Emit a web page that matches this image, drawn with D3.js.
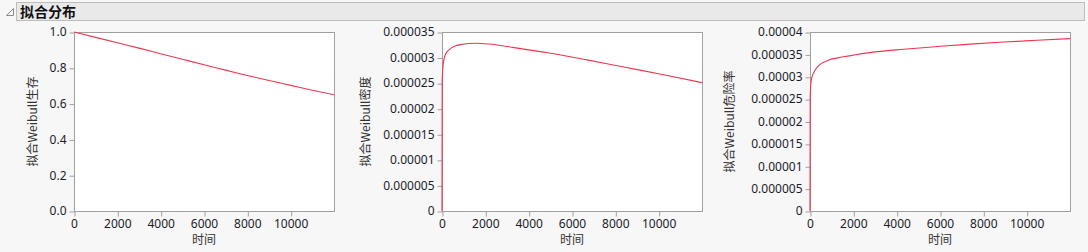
<!DOCTYPE html>
<html>
<head>
<meta charset="utf-8">
<script src="https://cdn.jsdelivr.net/npm/d3@7"></script>
<style>
  body { margin: 0; background: #f7f7f7; }
  svg { display: block; }
  text { font-family: "Noto Sans", "Noto Sans CJK SC", sans-serif; }
</style>
</head>
<body>
<script>
// values
var survTime = [0, 1000, 2000, 3000, 4000, 5000, 6000, 7000, 8000, 9000, 10000, 11000, 12000];
var survVal = [1.0, 0.970, 0.940, 0.910, 0.879, 0.848, 0.817, 0.787, 0.757, 0.729, 0.702, 0.675, 0.649];

var densTime = [0, 10, 40, 90, 170, 320, 630, 940, 1550, 2170, 3250, 4940, 6630, 8330, 10170, 12000];
var densVal = [0, 0.0000255, 0.0000280, 0.0000296, 0.0000307, 0.0000315, 0.0000323, 0.0000326, 0.0000328, 0.00003265, 0.0000320, 0.0000309, 0.0000296, 0.0000282, 0.0000267, 0.0000251];

var hazTime = [0, 10, 32, 80, 171, 402, 800, 1555, 2755, 4325, 5860, 7400, 8940, 10480, 12000];
var hazVal = [0, 0.0000250, 0.0000281, 0.0000297, 0.0000309, 0.0000325, 0.0000336, 0.00003445, 0.0000354, 0.00003615, 0.00003675, 0.0000373, 0.00003775, 0.00003815, 0.00003853];

var xTicks = [0, 2000, 4000, 6000, 8000, 10000];
var xMinor = [1000, 3000, 5000, 7000, 9000, 11000];
var survTicks = [0, 0.2, 0.4, 0.6, 0.8, 1.0];
var survMinor = [0.1, 0.3, 0.5, 0.7, 0.9];
var densTicks = [0, 0.000005, 0.00001, 0.000015, 0.00002, 0.000025, 0.00003, 0.000035];
var hazTicks = [0, 0.000005, 0.00001, 0.000015, 0.00002, 0.000025, 0.00003, 0.000035, 0.00004];

var title = "拟合分布";
var xTitle = "时间";

var W = 1088, H = 252;
var svg = d3.select("body").append("svg").attr("width", W).attr("height", H);

svg.append("rect").attr("width", W).attr("height", H).attr("fill", "#f7f7f7");

// header bar
svg.append("rect")
    .attr("x", 16.5).attr("y", 2.5).attr("width", 1068).attr("height", 18)
    .attr("fill", "#e9e9e9").attr("stroke", "#bdbdbd");
svg.append("path")
    .attr("d", "M13.5,8.5 L13.5,15.5 L6.5,15.5 Z")
    .attr("fill", "none").attr("stroke", "#8a8a8a");
svg.append("text")
    .attr("x", 20).attr("y", 17)
    .attr("font-size", 14).attr("font-weight", "bold")
    .attr("fill", "#111")
    .style("font-family", '"Noto Sans CJK SC", sans-serif')
    .text(title);

var panels = [
    {left: 74, time: survTime, vals: survVal, max: 1, ticks: survTicks, minor: survMinor,
     fmt: d3.format(".1f"), label: "拟合Weibull生存", labelOff: 41},
    {left: 442, time: densTime, vals: densVal, max: 0.000035, ticks: densTicks, minor: [],
     fmt: function(d) { return String(+d.toFixed(6)); }, label: "拟合Weibull密度", labelOff: 76},
    {left: 810, time: hazTime, vals: hazVal, max: 0.00004, ticks: hazTicks, minor: [],
     fmt: function(d) { return String(+d.toFixed(6)); }, label: "拟合Weibull危险率", labelOff: 80}
];

var plotTop = 32, plotBottom = 211, pw = 260;

panels.forEach(function(p) {
    var x = d3.scaleLinear().domain([0, 12000]).range([p.left, p.left + pw]);
    var y = d3.scaleLinear().domain([0, p.max]).range([plotBottom, plotTop]);

    svg.append("rect")
        .attr("x", p.left + 0.5).attr("y", plotTop + 0.5)
        .attr("width", pw).attr("height", plotBottom - plotTop)
        .attr("fill", "#fff").attr("stroke", "#a0a0a0");

    // x axis
    var gx = svg.append("g").attr("transform", "translate(0," + (plotBottom + 0.5) + ")");
    gx.call(d3.axisBottom(x).tickValues(xMinor).tickSize(3).tickFormat(""));
    gx.call(d3.axisBottom(x).tickValues(xTicks).tickSize(5).tickPadding(3).tickFormat(d3.format("d")));
    gx.selectAll(".domain").remove();
    gx.selectAll("line").attr("stroke", "#a0a0a0").attr("transform", "translate(0.5,0)");
    gx.selectAll("text").attr("font-size", 12).attr("fill", "#1c1c2a");

    // y axis
    var gy = svg.append("g").attr("transform", "translate(" + (p.left + 0.5) + ",0)");
    gy.call(d3.axisLeft(y).tickValues(p.minor).tickSize(3).tickFormat(""));
    gy.call(d3.axisLeft(y).tickValues(p.ticks).tickSize(5).tickPadding(3).tickFormat(p.fmt));
    gy.selectAll(".domain").remove();
    gy.selectAll("line").attr("stroke", "#a0a0a0").attr("transform", "translate(0,0.5)");
    gy.selectAll("text").attr("font-size", 12).attr("fill", "#1c1c2a");

    // titles
    svg.append("text")
        .attr("x", p.left + pw / 2).attr("y", 244)
        .attr("text-anchor", "middle").attr("font-size", 12).attr("fill", "#333")
        .style("font-family", '"Noto Sans CJK SC", sans-serif')
        .text(xTitle);
    svg.append("text")
        .attr("transform", "translate(" + (p.left - p.labelOff + 4) + "," + ((plotTop + plotBottom) / 2) + ") rotate(-90)")
        .attr("text-anchor", "middle").attr("font-size", 12).attr("fill", "#333")
        .style("font-family", '"Noto Sans CJK SC", sans-serif')
        .text(p.label);

    // curve
    var pts = p.time.map(function(t, i) { return [t, p.vals[i]]; });
    var line = d3.line()
        .x(function(d) { return x(d[0]); })
        .y(function(d) { return y(d[1]); })
        .curve(d3.curveMonotoneX);
    svg.append("path")
        .datum(pts)
        .attr("d", line)
        .attr("fill", "none")
        .attr("stroke", "#ee3550")
        .attr("stroke-width", 1.1);
});
</script>
</body>
</html>
